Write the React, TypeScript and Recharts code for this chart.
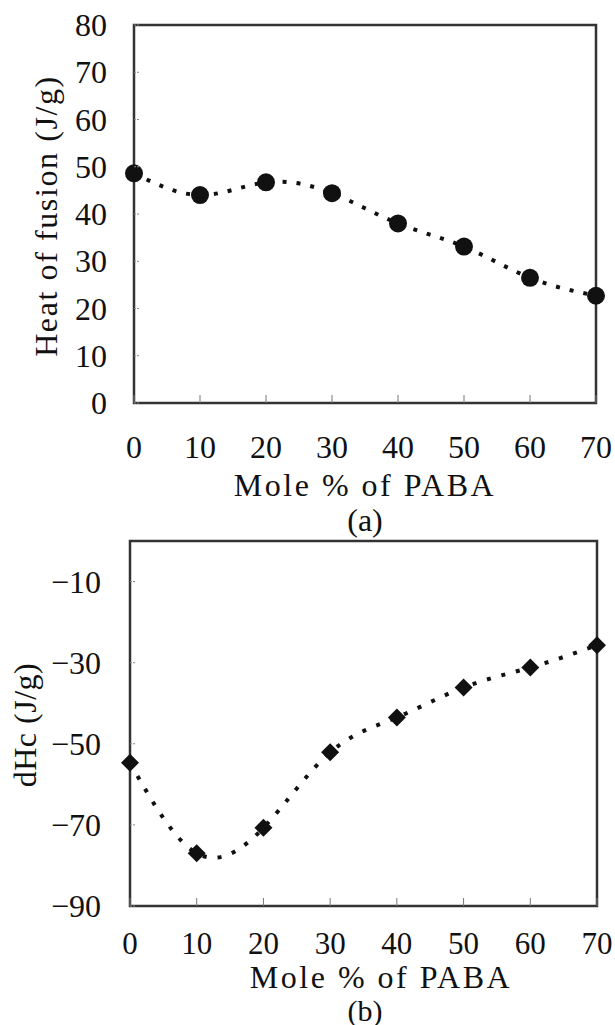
import { LineChart, Line, XAxis, YAxis, ReferenceArea } from 'recharts';

const molePct = [0, 10, 20, 30, 40, 50, 60, 70];
const heatOfFusion = [48.6, 44.0, 46.7, 44.4, 38.0, 33.1, 26.5, 22.7];
const dHc = [-54.7, -77.0, -70.7, -52.1, -43.5, -36.1, -31.2, -25.7];

const xTicks = [0, 10, 20, 30, 40, 50, 60, 70];
const heatTicks = [0, 10, 20, 30, 40, 50, 60, 70, 80];
const dHcTicks = [-90, -70, -50, -30, -10];

const FONT = "'Liberation Serif', 'Times New Roman', Times, serif";
const INK = '#111';

const heatData = molePct.map((x, i) => ({ x, y: heatOfFusion[i] }));
const dHcData = molePct.map((x, i) => ({ x, y: dHc[i] }));

const fmtMinus = (v: number) => String(v).replace('-', '\u2212');

function makeXTick(labelOffset: number, size: number) {
  return (props: any) => {
    const { x, y, payload } = props;
    return (
      <g>
        <line x1={x} y1={y} x2={x} y2={y - 8} stroke="#777" strokeWidth={1} />
        <text x={x} y={y + labelOffset} dy="0.35em" textAnchor="middle" style={{ fontFamily: FONT }} fontSize={size} fill={INK}>
          {payload.value}
        </text>
      </g>
    );
  };
}

function makeYTick(gap: number, format: (v: number) => string) {
  return (props: any) => {
    const { x, y, payload } = props;
    return (
      <g>
        <line x1={x} y1={y} x2={x + 6} y2={y} stroke="#888" strokeWidth={1} strokeDasharray="2 1" />
        <text x={x - gap} y={y} dy="0.35em" textAnchor="end" style={{ fontFamily: FONT }} fontSize={32} fill={INK}>
          {format(payload.value)}
        </text>
      </g>
    );
  };
}

const Diamond = (props: any) => {
  const { cx, cy } = props;
  if (cx == null || cy == null) return null;
  const h = 9;
  return (
    <polygon
      points={`${cx},${cy - h} ${cx + h},${cy} ${cx},${cy + h} ${cx - h},${cy}`}
      fill={INK}
    />
  );
};

function Txt({ x, y, text, rotate = false, size = 32, spacing = 2.5 }: any) {
  return (
    <div
      style={{
        position: 'absolute',
        left: x,
        top: y,
        transform: `translate(-50%, -50%)${rotate ? ' rotate(-90deg)' : ''}`,
        fontFamily: FONT,
        fontSize: size,
        letterSpacing: spacing,
        lineHeight: 0.8,
        whiteSpace: 'nowrap',
        color: INK,
      }}
    >
      {text}
    </div>
  );
}

export default function App() {
  return (
    <div style={{ position: 'absolute', left: 0, top: 0, width: 615, height: 1025, background: '#fff' }}>
      <div style={{ position: 'absolute', left: 0, top: 0 }}>
        <LineChart width={615} height={510} data={heatData} margin={{ top: 25, right: 19, left: 34, bottom: 47 }}>
          <XAxis
            dataKey="x"
            type="number"
            domain={[0, 70]}
            ticks={xTicks}
            axisLine={false}
            tickLine={false}
            tickSize={0}
            tickMargin={0}
            height={60}
            interval={0}
            tick={makeXTick(44, 32)}
          />
          <YAxis
            type="number"
            domain={[0, 80]}
            ticks={heatTicks}
            axisLine={false}
            tickLine={false}
            tickSize={0}
            tickMargin={0}
            width={100}
            interval={0}
            tick={makeYTick(27, (v) => String(v))}
          />
          <ReferenceArea x1={0} x2={70} y1={0} y2={80} fill="none" stroke="#333" strokeWidth={2.5} />
          <Line
            dataKey="y"
            type="natural"
            stroke={INK}
            strokeWidth={4}
            strokeDasharray="4 10"
            dot={{ r: 9, fill: INK, stroke: INK, strokeWidth: 0 }}
            isAnimationActive={false}
          />
        </LineChart>
      </div>
      <div style={{ position: 'absolute', left: 0, top: 510 }}>
        <LineChart width={615} height={515} data={dHcData} margin={{ top: 31, right: 18, left: 30, bottom: 59 }}>
          <XAxis
            dataKey="x"
            type="number"
            domain={[0, 70]}
            ticks={xTicks}
            axisLine={false}
            tickLine={false}
            tickSize={0}
            tickMargin={0}
            height={60}
            interval={0}
            tick={makeXTick(37, 31)}
          />
          <YAxis
            type="number"
            domain={[-90, 0]}
            ticks={dHcTicks}
            axisLine={false}
            tickLine={false}
            tickSize={0}
            tickMargin={0}
            width={100}
            interval={0}
            tick={makeYTick(29, fmtMinus)}
          />
          <ReferenceArea x1={0} x2={70} y1={-90} y2={0} fill="none" stroke="#333" strokeWidth={2.5} />
          <Line
            dataKey="y"
            type="natural"
            stroke={INK}
            strokeWidth={4}
            strokeDasharray="4 11"
            dot={<Diamond />}
            isAnimationActive={false}
          />
        </LineChart>
      </div>
      <Txt x={47} y={216} text="Heat of fusion (J/g)" rotate spacing={1.6} />
      <Txt x={365} y={486} text="Mole % of PABA" />
      <Txt x={365} y={521} text="(a)" spacing={0} />
      <Txt x={26} y={725} text="dHc (J/g)" rotate spacing={0.5} />
      <Txt x={381} y={978} text="Mole % of PABA" />
      <Txt x={365} y={1011} text="(b)" size={30} spacing={0} />
    </div>
  );
}
